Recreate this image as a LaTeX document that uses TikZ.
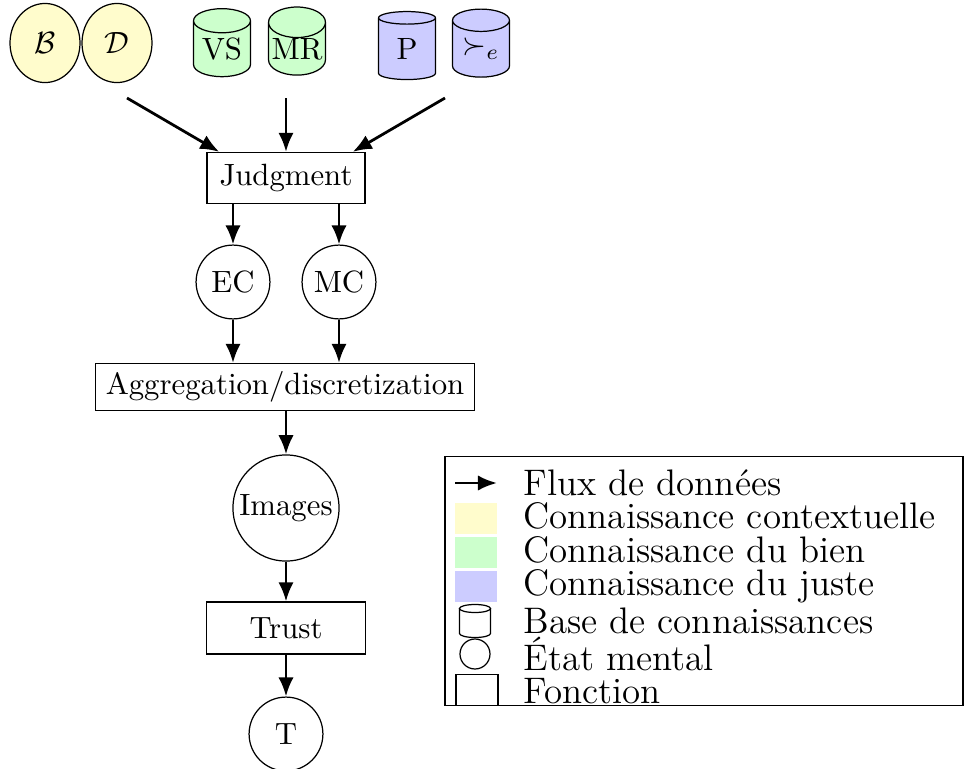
\documentclass[tikz,border=0pt]{standalone}
\usetikzlibrary{shapes.geometric,arrows.meta}
\begin{document}
\begin{tikzpicture}[x=0.325pt,y=-0.325pt,
  every node/.style={inner sep=0pt},
  flow/.style={line width=0.9pt,-{Latex[length=6.2pt,width=5pt]}},
  ctx/.style={draw,ellipse,fill=yellow!20,minimum width=22.75pt,minimum height=25.7pt},
  kb/.style={draw,cylinder,shape border rotate=90,aspect=0.6,
    minimum width=18.5pt,minimum height=22.1pt},
  good/.style={kb,fill=green!20},
  just/.style={kb,fill=blue!20},
  func/.style={draw,rectangle,inner xsep=3.33pt,minimum height=16.6pt},
  mental/.style={draw,circle,minimum size=24pt},
  swatch/.style={minimum width=13.65pt,minimum height=10pt},
  legtext/.style={anchor=base west,font=\large}
]
\useasboundingbox (0,0) rectangle (964,769);

% sources of knowledge
\node[ctx] (B) at (45,43) {$\mathcal{B}$};
\node[ctx] (D) at (117,43) {$\mathcal{D}$};
\node[good] (VS) at (222,49) {VS};
\node[good] (MR) at (297,49) {MR};
\node[just] (P) at (407,49) {P};
\node[just] (Pref) at (481,49) {$\succ_e$};

\coordinate (ctxout) at (127,98);
\coordinate (goodout) at (286,98);
\coordinate (justout) at (445,98);

% processing chain
\node[func,minimum width=51.4pt] (Judg) at (286,178) {Judgment};
\node[mental] (EC) at (233,282) {EC};
\node[mental] (MC) at (339,282) {MC};
\node[func,minimum height=15.3pt] (Agg) at (285,387) {Aggregation/discretization};
\node[draw,circle,inner sep=1pt,minimum size=34.5pt] (Img) at (286,508) {Images};
\node[func,minimum width=51.7pt,minimum height=16.9pt] (Trust) at (286,628) {Trust};
\node[mental] (T) at (286,734) {T};

\draw[flow] (ctxout) -- ([xshift=4.2pt]Judg.north west);
\draw[flow] (goodout) -- (Judg.north);
\draw[flow] (justout) -- ([xshift=-4.2pt]Judg.north east);
\draw[flow] (EC |- Judg.south) -- (EC.north);
\draw[flow] (MC |- Judg.south) -- (MC.north);
\draw[flow] (EC.south) -- (EC |- Agg.north);
\draw[flow] (MC.south) -- (MC |- Agg.north);
\draw[flow] (Agg.south -| Img) -- (Img.north);
\draw[flow] (Img.south) -- (Trust.north -| Img);
\draw[flow] (Trust.south -| T) -- (T.north);

% legend
\node[draw,rectangle,minimum width=168.35pt,minimum height=81pt] (leg) at (704,581) {};
\coordinate (la) at (455,483);
\coordinate (lb) at (497,483);
\draw[flow] (la) -- (lb);
\node[swatch,fill=yellow!20] (sqy) at (476,518.5) {};
\node[swatch,fill=green!20] (sqg) at (476,552.5) {};
\node[swatch,fill=blue!20] (sqb) at (476,586.5) {};
% small knowledge-base cylinder
\coordinate (lkbtop) at (475,608.5);
\draw (lkbtop) ellipse [x radius=5.04pt,y radius=1.3pt];
\draw ([xshift=-5.04pt]lkbtop) -- ++(0,25)
  arc[start angle=180,end angle=360,x radius=5.04pt,y radius=1.3pt] -- ++(0,-25);
\node[draw,circle,minimum size=9.75pt] (lms) at (475,654) {};
\node[draw,rectangle,swatch] (lfn) at (477,690) {};

\node[legtext] (t1) at (523,495) {Flux de données};
\node[legtext] (t2) at (523,528) {Connaissance contextuelle};
\node[legtext] (t3) at (523,562) {Connaissance du bien};
\node[legtext] (t4) at (523,595) {Connaissance du juste};
\node[legtext] (t5) at (523,633) {Base de connaissances};
\node[legtext] (t6) at (523,670) {État mental};
\node[legtext] (t7) at (523,703) {Fonction};
\end{tikzpicture}
\end{document}
